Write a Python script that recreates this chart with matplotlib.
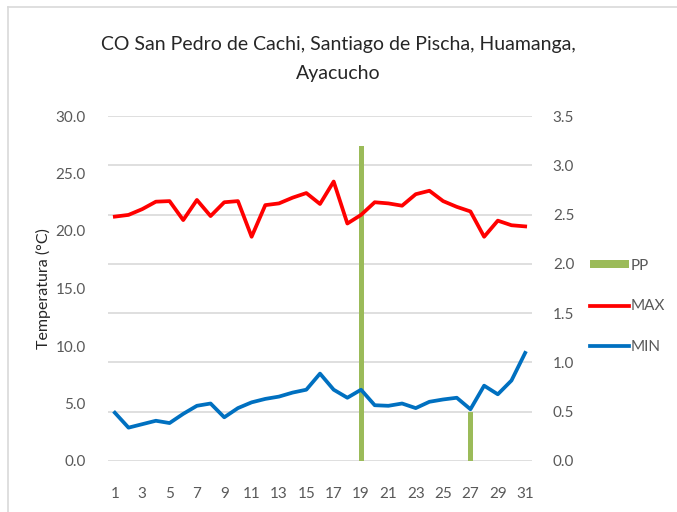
import matplotlib
matplotlib.use("Agg")
import matplotlib.pyplot as plt
from matplotlib.lines import Line2D
from matplotlib.patches import Patch

plt.rcParams['font.family'] = ['Lato', 'DejaVu Sans']

days = list(range(1, 32))
tmax = [21.25, 21.4, 21.9, 22.55, 22.6, 20.95, 22.7, 21.3, 22.5, 22.6,
        19.5, 22.25, 22.4, 22.9, 23.3, 22.35, 24.3, 20.65, 21.4, 22.5,
        22.4, 22.2, 23.2, 23.5, 22.6, 22.1, 21.7, 19.5, 20.9, 20.5, 20.4]
tmin = [4.2, 2.9, 3.2, 3.5, 3.3, 4.1, 4.8, 5.0, 3.8, 4.6,
        5.1, 5.4, 5.6, 5.95, 6.2, 7.6, 6.2, 5.5, 6.2, 4.85,
        4.8, 5.0, 4.6, 5.15, 5.35, 5.5, 4.5, 6.55, 5.8, 7.0, 9.4]
pp = [0]*31
pp[18] = 3.2
pp[26] = 0.5

left_ticks = [0, 5, 10, 15, 20, 25, 30]
right_ticks = [0, 0.5, 1.0, 1.5, 2.0, 2.5, 3.0, 3.5]
xtick_days = list(range(1, 32, 2))

title = "CO San Pedro de Cachi, Santiago de Pischa, Huamanga,\nAyacucho"

c_max = '#FF0000'
c_min = '#0070C0'
c_pp = '#9BBB59'
c_grid = '#D9D9D9'
c_text = '#595959'

fig = plt.figure(figsize=(6.77, 5.12), dpi=100)
ax = fig.add_axes([108/677, 1-461/512, (532-108)/677, (461-116)/512])
ax2 = ax.twinx()

# bars on secondary axis (behind)
ax2.bar(days, pp, width=0.37, color=c_pp, zorder=2)
ax2.set_ylim(0, 3.5)
ax2.set_yticks(right_ticks)
ax2.set_yticklabels([f"{v:.1f}" for v in right_ticks])
ax2.grid(axis='y', color=c_grid, linewidth=1.2, zorder=0)
ax2.set_axisbelow(True)

# lines on primary axis, on top
ax.set_zorder(ax2.get_zorder() + 1)
ax.patch.set_visible(False)
ax.plot(days, tmax, color=c_max, linewidth=2.7, solid_joinstyle='round')
ax.plot(days, tmin, color=c_min, linewidth=2.7, solid_joinstyle='round')
ax.set_ylim(0, 30)
ax.set_yticks(left_ticks)
ax.set_yticklabels([f"{v:.1f}" for v in left_ticks])
ax.set_xlim(0.5, 31.5)
ax.set_xticks(xtick_days)
ax.set_xticklabels([str(d) for d in xtick_days])

for a in (ax, ax2):
    for s in a.spines.values():
        s.set_visible(False)
    a.tick_params(length=0, labelsize=11, colors=c_text)
ax.tick_params(axis='y', pad=16)
ax2.tick_params(axis='y', pad=15)
ax.tick_params(axis='x', pad=19)

ax.set_ylabel("Temperatura (°C)", fontsize=11.5, color='#262626', labelpad=3)

fig.text(0.5, 1-59/512, title, ha='center', va='center', fontsize=14,
         color='#262626', linespacing=1.8)

handles = [Patch(facecolor=c_pp, edgecolor='none'),
           Line2D([0], [0], color=c_max, linewidth=2.7),
           Line2D([0], [0], color=c_min, linewidth=2.7)]
leg = fig.legend(handles, ["PP", "MAX", "MIN"], loc='upper left',
                 bbox_to_anchor=(576/677, 1-245/512), frameon=False,
                 fontsize=11, handlelength=2.6, handleheight=0.45,
                 handletextpad=0.1, labelspacing=1.75)
for t in leg.get_texts():
    t.set_color(c_text)

# outer border (top and left visible)
fig.add_artist(Line2D([8/677, 1], [1-7/512, 1-7/512], color=c_grid,
                      linewidth=1.2, transform=fig.transFigure))
fig.add_artist(Line2D([8/677, 8/677], [0, 1-7/512], color=c_grid,
                      linewidth=1.2, transform=fig.transFigure))

fig.savefig("out.png", dpi=100)
